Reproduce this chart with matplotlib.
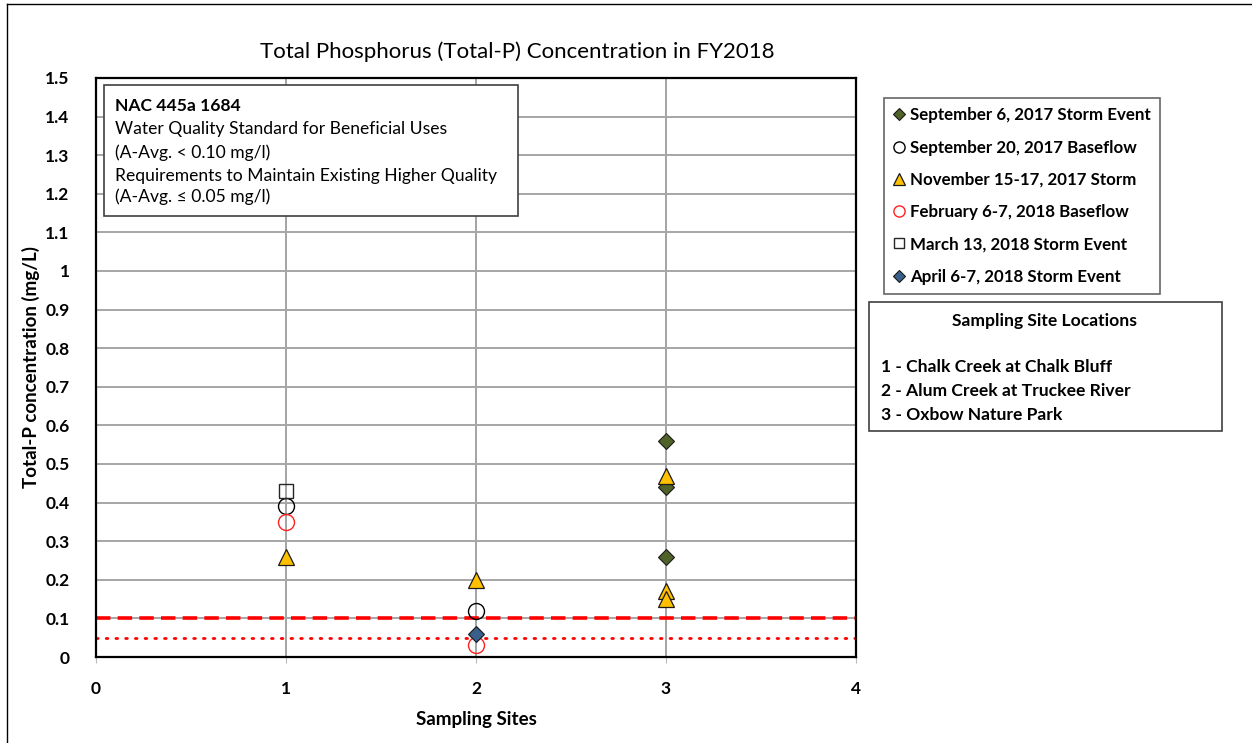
import matplotlib
matplotlib.use("Agg")
import matplotlib.pyplot as plt
from matplotlib.lines import Line2D
from matplotlib.patches import Rectangle

plt.rcParams['font.family'] = ['Lato', 'DejaVu Sans']

# ---- data ----
series_labels = [
    "September 6, 2017 Storm Event",
    "September 20, 2017 Baseflow",
    "November 15-17, 2017 Storm",
    "February 6-7, 2018 Baseflow",
    "March 13, 2018 Storm Event",
    "April 6-7, 2018 Storm Event",
]
sep6_x = [3, 3, 3]
sep6_y = [0.56, 0.44, 0.26]
sep20_x = [1, 2]
sep20_y = [0.39, 0.12]
nov_x = [1, 2, 3, 3, 3]
nov_y = [0.26, 0.20, 0.47, 0.17, 0.15]
feb_x = [1, 2]
feb_y = [0.35, 0.03]
mar_x = [1]
mar_y = [0.43]
apr_x = [2]
apr_y = [0.06]

standard_beneficial = 0.10
standard_higher = 0.05

x_ticks = [0, 1, 2, 3, 4]
y_ticks = [0, 0.1, 0.2, 0.3, 0.4, 0.5, 0.6, 0.7, 0.8, 0.9, 1, 1.1, 1.2, 1.3, 1.4, 1.5]
y_tick_labels = ["0", "0.1", "0.2", "0.3", "0.4", "0.5", "0.6", "0.7", "0.8", "0.9",
                 "1", "1.1", "1.2", "1.3", "1.4", "1.5"]

site_lines = ["1 - Chalk Creek at Chalk Bluff",
              "2 - Alum Creek at Truckee River",
              "3 - Oxbow Nature Park"]
nac_lines = ["Water Quality Standard for Beneficial Uses",
             "(A-Avg. < 0.10 mg/l)",
             "Requirements to Maintain Existing Higher Quality",
             "(A-Avg. \u2264 0.05 mg/l)"]

# ---- figure ----
W, H = 1252, 743
fig = plt.figure(figsize=(W / 100, H / 100), dpi=100)

def fx(px):
    return px / W

def fy(py):
    return 1 - py / H

ax = fig.add_axes([fx(96), fy(657), fx(856) - fx(96), fy(78) - fy(657)])
ax.set_xlim(0, 4)
ax.set_ylim(0, 1.5)
ax.set_xticks(x_ticks)
ax.set_yticks(y_ticks)
ax.set_yticklabels(y_tick_labels)
for lab in ax.get_xticklabels() + ax.get_yticklabels():
    lab.set_fontweight('bold')
    lab.set_fontsize(12.5)
ax.tick_params(axis='x', length=4, color='#BBBBBB', pad=13)
ax.tick_params(axis='y', length=0, pad=19)
for s in ax.spines.values():
    s.set_color('black')
    s.set_linewidth(1.6)

ax.grid(axis='y', color='#A6A6A6', linewidth=1.4, zorder=0)
ax.grid(axis='x', color='#8C8C8C', linewidth=1.1, zorder=0)
ax.set_axisbelow(True)

ax.axhline(standard_beneficial, color='#FF0000', linewidth=2.6, linestyle=(0, (4, 2)), zorder=2)
ax.axhline(standard_higher, color='#FF0000', linewidth=2.0, linestyle=(0, (0.6, 2.9)),
           dash_capstyle='round', zorder=2)

ax.plot(sep6_x, sep6_y, linestyle='none', marker='D', markersize=8.5,
        markerfacecolor='#4F6228', markeredgecolor='#1A1A1A', markeredgewidth=0.8,
        label=series_labels[0], zorder=3)
ax.plot(sep20_x, sep20_y, linestyle='none', marker='o', markersize=11.5,
        markerfacecolor='none', markeredgecolor='black', markeredgewidth=1.0,
        label=series_labels[1], zorder=3)
ax.plot(nov_x, nov_y, linestyle='none', marker='^', markersize=12,
        markerfacecolor='#FFC000', markeredgecolor='#1A1A1A', markeredgewidth=0.9,
        label=series_labels[2], zorder=3)
ax.plot(feb_x, feb_y, linestyle='none', marker='o', markersize=11.5,
        markerfacecolor='none', markeredgecolor='#FF2020', markeredgewidth=1.0,
        label=series_labels[3], zorder=3)
ax.plot(mar_x, mar_y, linestyle='none', marker='s', markersize=10,
        markerfacecolor='none', markeredgecolor='#262626', markeredgewidth=1.0,
        label=series_labels[4], zorder=3)
ax.plot(apr_x, apr_y, linestyle='none', marker='D', markersize=8.5,
        markerfacecolor='#3A5F8A', markeredgecolor='#1A1A1A', markeredgewidth=0.8,
        label=series_labels[5], zorder=4)

ax.set_xlabel("Sampling Sites", fontsize=13.5, fontweight='bold', labelpad=10)
ax.set_ylabel("Total-P concentration (mg/L)", fontsize=13.5, fontweight='bold', labelpad=4)

fig.text(fx(517), fy(52), "Total Phosphorus (Total-P) Concentration in FY2018",
         ha='center', va='center', fontsize=16)

# outer chart border
fig.add_artist(Line2D([fx(7), fx(7)], [fy(4), 0], color='black', linewidth=1.0))
fig.add_artist(Line2D([fx(7), 1], [fy(4), fy(4)], color='black', linewidth=1.0))

# series legend
handles, labels = ax.get_legend_handles_labels()
small = []
for h in handles:
    nh = Line2D([], [], linestyle='none', marker=h.get_marker(),
                markersize=h.get_markersize() * 0.7,
                markerfacecolor=h.get_markerfacecolor(),
                markeredgecolor=h.get_markeredgecolor(),
                markeredgewidth=h.get_markeredgewidth())
    small.append(nh)
leg = fig.legend(small, labels, loc='upper left',
                 bbox_to_anchor=(fx(884), fy(98)), frameon=True, fancybox=False,
                 prop={'weight': 'bold', 'size': 12.2}, labelspacing=0.96,
                 handlelength=0.7, handletextpad=0.3, borderpad=0.55,
                 borderaxespad=0)
leg.get_frame().set_edgecolor('#404040')
leg.get_frame().set_linewidth(1.2)

# sampling site locations box
fig.add_artist(Rectangle((fx(869), fy(431)), fx(1222) - fx(869), fy(302) - fy(431),
                         transform=fig.transFigure, facecolor='white',
                         edgecolor='#404040', linewidth=1.2))
fig.text(fx(1045), fy(321), "Sampling Site Locations", ha='center', va='center',
         fontsize=12.6, fontweight='bold')
for i, t in enumerate(site_lines):
    fig.text(fx(881), fy(367 + 24 * i), t, ha='left', va='center',
             fontsize=12.6, fontweight='bold')

# NAC box
fig.add_artist(Rectangle((fx(104), fy(216)), fx(518) - fx(104), fy(85) - fy(216),
                         transform=fig.transFigure, facecolor='white',
                         edgecolor='#404040', linewidth=1.2, zorder=5))
fig.text(fx(115), fy(106), "NAC 445a 1684", ha='left', va='center',
         fontsize=12.6, fontweight='bold', zorder=6)
nac_y = [129, 153, 176, 197]
for t, yy in zip(nac_lines, nac_y):
    fig.text(fx(115), fy(yy), t, ha='left', va='center',
             fontsize=12.6, zorder=6)

fig.savefig("out.png", dpi=100)
